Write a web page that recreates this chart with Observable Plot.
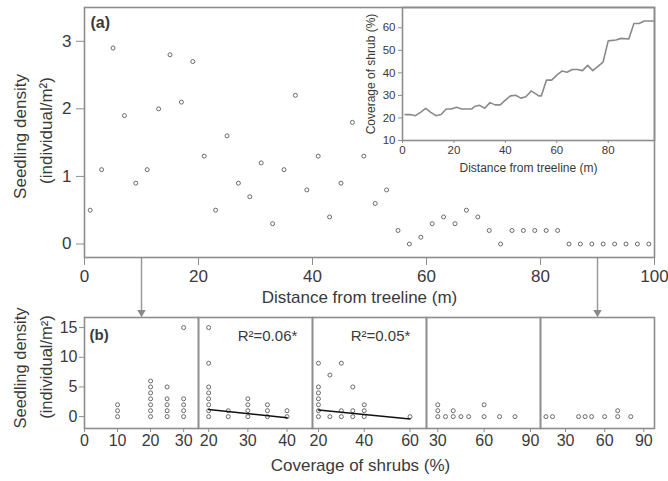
<!DOCTYPE html>
<html><head><meta charset="utf-8">
<script src="https://cdn.jsdelivr.net/npm/d3@7"></script>
<script src="https://cdn.jsdelivr.net/npm/@observablehq/plot@0.6"></script>
<style>
body{margin:0;background:#fff;}
#chart{position:relative;width:668px;height:481px;overflow:hidden;background:#fff;}
#chart svg{position:absolute;background:transparent;overflow:visible;}
</style></head><body><div id="chart"></div>
<script>
// ---- Panel (a): seedling density vs distance from treeline ----
const distance = [1,3,5,7,9,11,13,15,17,19,21,23,25,27,29,31,33,35,37,39,41,43,45,47,49,51,53,55,57,59,61,63,65,67,69,71,73,75,77,79,81,83,85,87,89,91,93,95,97,99];
const density  = [0.5,1.1,2.9,1.9,0.9,1.1,2.0,2.8,2.1,2.7,1.3,0.5,1.6,0.9,0.7,1.2,0.3,1.1,2.2,0.8,1.3,0.4,0.9,1.8,1.3,0.6,0.8,0.2,0.0,0.1,0.3,0.4,0.3,0.5,0.4,0.2,0.0,0.2,0.2,0.2,0.2,0.2,0,0,0,0,0,0,0,0];
const distTicks = [0,20,40,60,80,100];
const densTicks = [0,1,2,3];
const arrowDistances = [10, 90];

// ---- Inset: shrub coverage along the transect ----
const shrubDistance = [1,3,5,7,9,11,13,15,17,19,21,23,25,27,28,30,32,34,36,38,40,42,44,46,48,50,52,53,54,56,58,60,62,64,66,68,70,72,74,76,78,80,83,85,88,90,92,94,98];
const shrubCover    = [21.5,21.5,21,22.5,24.3,22.5,21,21.5,24,24,24.8,24,24,24,25.1,25.6,24.3,26.8,25.8,25.8,27.9,29.8,30.1,28.8,29.4,32,30.6,29.8,29.8,36.8,36.8,39,40.8,40.3,41.5,41.5,41,43.3,41,42.9,44.8,54.2,54.6,55.3,55,61.9,61.9,63,63];
const insetXTicks = [0,20,40,60,80];
const insetYTicks = [10,20,30,40,50,60];

// ---- Panel (b): seedling density vs shrub coverage, per 20 m segment ----
const p1Cover   = [10,10,10,20,20,20,20,20,20,20,25,25,25,25,25,30,30,30,30,30];
const p1Density = [0,1,2,0,1,2,3,4,5,6,0,1,2,3,5,0,1,2,3,15];
const p2Cover   = [20,20,20,20,20,20,20,20,25,25,30,30,30,30,35,35,35,40,40];
const p2Density = [0,1,2,3,4,5,9,15,0,1,0,1,2,3,0,1,2,0,1];
const p3Cover   = [20,20,20,20,20,20,20,25,25,30,30,30,35,35,35,40,40,40,60];
const p3Density = [0,1,2,3,4,5,9,0,7,0,1,9,0,1,5,0,1,2,0];
const p4Cover   = [30,30,30,35,40,40,45,50,60,60,70,80];
const p4Density = [0,1,2,0,0,1,0,0,0,2,0,0];
const p5Cover   = [15,20,40,45,50,60,70,70,80];
const p5Density = [0,0,0,0,0,0,0,1,0];
const p2Fit = {cover:[20,40], density:[1.2,-0.2]};
const p3Fit = {cover:[20,60], density:[1.1,-0.4]};
const r2Labels = ["R²=0.06*", "R²=0.05*"];
const bYTicks = [0,5,10,15];
const bXTicks = [[0,10,20,30],[20,30,40],[20,40,60],[30,60,90],[30,60,90]];
const bXDomains = [[0,34.5],[17.4,46.5],[17.4,67.2],[22.7,96.5],[10.8,98.2]];

// ---- styling ----
const FONT = "'Liberation Sans', Arial, sans-serif";
const ink = "#3a3a3a";
const frameColor = "#8d8d8d";
const ptColor = "#6a6a6a";
const chart = document.getElementById("chart");
function place(svg, left, top){ svg.style.left = left+"px"; svg.style.top = top+"px"; chart.appendChild(svg); }
const baseStyle = (fs) => ({fontFamily: FONT, fontSize: fs+"px", color: ink, background: "transparent", overflow: "visible"});
const fmt = d => String(d);
const label = (txt, opts) => Plot.text([txt], {text: d=>d, textAnchor: "middle", lineAnchor: "middle", ...opts});

// ---------- top panel ----------
const topY = [-0.2, 3.5];
const topMT = 7, topH = 320, topMB = 63;
const pxPerUnit = (topH - topMT - topMB) / (topY[1] - topY[0]);
const arrowEnd = topY[0] - 55 / pxPerUnit;
const topRows = distance.map((d,i)=>({d, v: density[i]}));
const topPlot = Plot.plot({
  width: 668, height: topH, marginLeft: 84, marginRight: 14, marginTop: topMT, marginBottom: topMB,
  style: baseStyle(17),
  x: {domain: [0,100]}, y: {domain: topY},
  marks: [
    Plot.ruleX(arrowDistances, {x: d=>d, y1: topY[0], y2: arrowEnd, stroke: "#9a9a9a", strokeWidth: 1.5}),
    Plot.dot(arrowDistances, {x: d=>d, y: arrowEnd, symbol: "triangle2", rotate: 180, r: 4, fill: "#8a8a8a", stroke: "none"}),
    Plot.frame({stroke: frameColor, strokeWidth: 1.6}),
    Plot.axisX({ticks: distTicks, tickFormat: fmt, tickSize: 8, tickPadding: 4, fontSize: 17, label: null, stroke: frameColor, fill: ink}),
    Plot.axisY({ticks: densTicks, tickFormat: fmt, tickSize: 8, tickPadding: 5, fontSize: 17, label: null, stroke: frameColor, fill: ink}),
    Plot.dot(topRows, {x: "d", y: "v", r: 2, stroke: ptColor, strokeWidth: 1, fill: "none"}),
    label("Distance from treeline (m)", {frameAnchor: "bottom", dx: -10, dy: 40, fontSize: 17}),
    label("Seedling density", {frameAnchor: "left", rotate: -90, dx: -64, dy: 4, fontSize: 17}),
    label("(individual/m²)", {frameAnchor: "left", rotate: -90, dx: -38, dy: -2, fontSize: 17}),
    label("(a)", {frameAnchor: "top-left", textAnchor: "start", dx: 6, dy: 15, fontSize: 16, fontWeight: "bold"})
  ]
});
place(topPlot, 0, 0);

// ---------- inset ----------
const insetRows = shrubDistance.map((d,i)=>({d, c: shrubCover[i]}));
const insetPlot = Plot.plot({
  width: 300, height: 180, marginLeft: 34, marginRight: 14, marginTop: 7, marginBottom: 40,
  style: baseStyle(11),
  x: {domain: [0,98]}, y: {domain: [10,69]},
  marks: [
    Plot.frame({stroke: frameColor, strokeWidth: 1.6}),
    Plot.axisX({ticks: insetXTicks, tickFormat: fmt, tickSize: 3, tickPadding: 2, fontSize: 11.5, label: null, stroke: frameColor, fill: ink}),
    Plot.axisY({ticks: insetYTicks, tickFormat: fmt, tickSize: 4, tickPadding: 3, fontSize: 11.5, label: null, stroke: frameColor, fill: ink}),
    Plot.line(insetRows, {x: "d", y: "c", stroke: "#8a8a8a", strokeWidth: 1.6}),
    label("Distance from treeline (m)", {frameAnchor: "bottom", dy: 28, fontSize: 12}),
    label("Coverage of shrub (%)", {frameAnchor: "left", rotate: -90, dx: -31, fontSize: 12})
  ]
});
place(insetPlot, 368, 0);

// ---------- bottom panels ----------
const bTop = 300, bH = 181, bMT = 17, bMB = 53, bY = [-2, 16.7];
const panels = [
  {cover: p1Cover, dens: p1Density},
  {cover: p2Cover, dens: p2Density, fit: p2Fit, r2: r2Labels[0], r2dx: 12},
  {cover: p3Cover, dens: p3Density, fit: p3Fit, r2: r2Labels[1], r2dx: 11},
  {cover: p4Cover, dens: p4Density},
  {cover: p5Cover, dens: p5Density}
];
panels.forEach((p, i) => {
  const rows = p.cover.map((c,j)=>({c, v: p.dens[j]}));
  const left = 84 + 114*i;
  const first = i === 0;
  const marks = [
    Plot.frame({stroke: frameColor, strokeWidth: 1.6}),
    Plot.axisX({ticks: bXTicks[i], tickFormat: fmt, tickSize: 4, tickPadding: 2, fontSize: 16, label: null, stroke: frameColor, fill: ink}),
    Plot.dot(rows, {x: "c", y: "v", r: 2, stroke: ptColor, strokeWidth: 1, fill: "none"})
  ];
  if (p.fit) {
    const fitRows = p.fit.cover.map((c,j)=>({c, v: p.fit.density[j]}));
    marks.push(Plot.line(fitRows, {x: "c", y: "v", stroke: "#111", strokeWidth: 1.5}));
    marks.push(label(p.r2, {frameAnchor: "top", dx: p.r2dx, dy: 19, fontSize: 15}));
  }
  if (first) {
    marks.push(Plot.axisY({ticks: bYTicks, tickFormat: fmt, tickSize: 5, tickPadding: 2, fontSize: 16, label: null, stroke: frameColor, fill: ink}));
    marks.push(label("Seedling density", {frameAnchor: "left", rotate: -90, dx: -64, dy: -5, fontSize: 16.5}));
    marks.push(label("(individual/m²)", {frameAnchor: "left", rotate: -90, dx: -38, dy: -6, fontSize: 16.5}));
    marks.push(label("Coverage of shrubs (%)", {frameAnchor: "bottom", dx: 219, dy: 37, fontSize: 17}));
    marks.push(label("(b)", {frameAnchor: "top-left", textAnchor: "start", dx: 5, dy: 18, fontSize: 15, fontWeight: "bold"}));
  }
  const svg = Plot.plot({
    width: first ? 668 : 154, height: bH,
    marginLeft: first ? 84 : 20, marginRight: first ? 668-198 : 20,
    marginTop: bMT, marginBottom: bMB,
    style: baseStyle(16),
    x: {domain: bXDomains[i]}, y: {domain: bY, axis: first ? undefined : null},
    marks
  });
  place(svg, first ? 0 : left - 20, bTop);
});
</script></body></html>
